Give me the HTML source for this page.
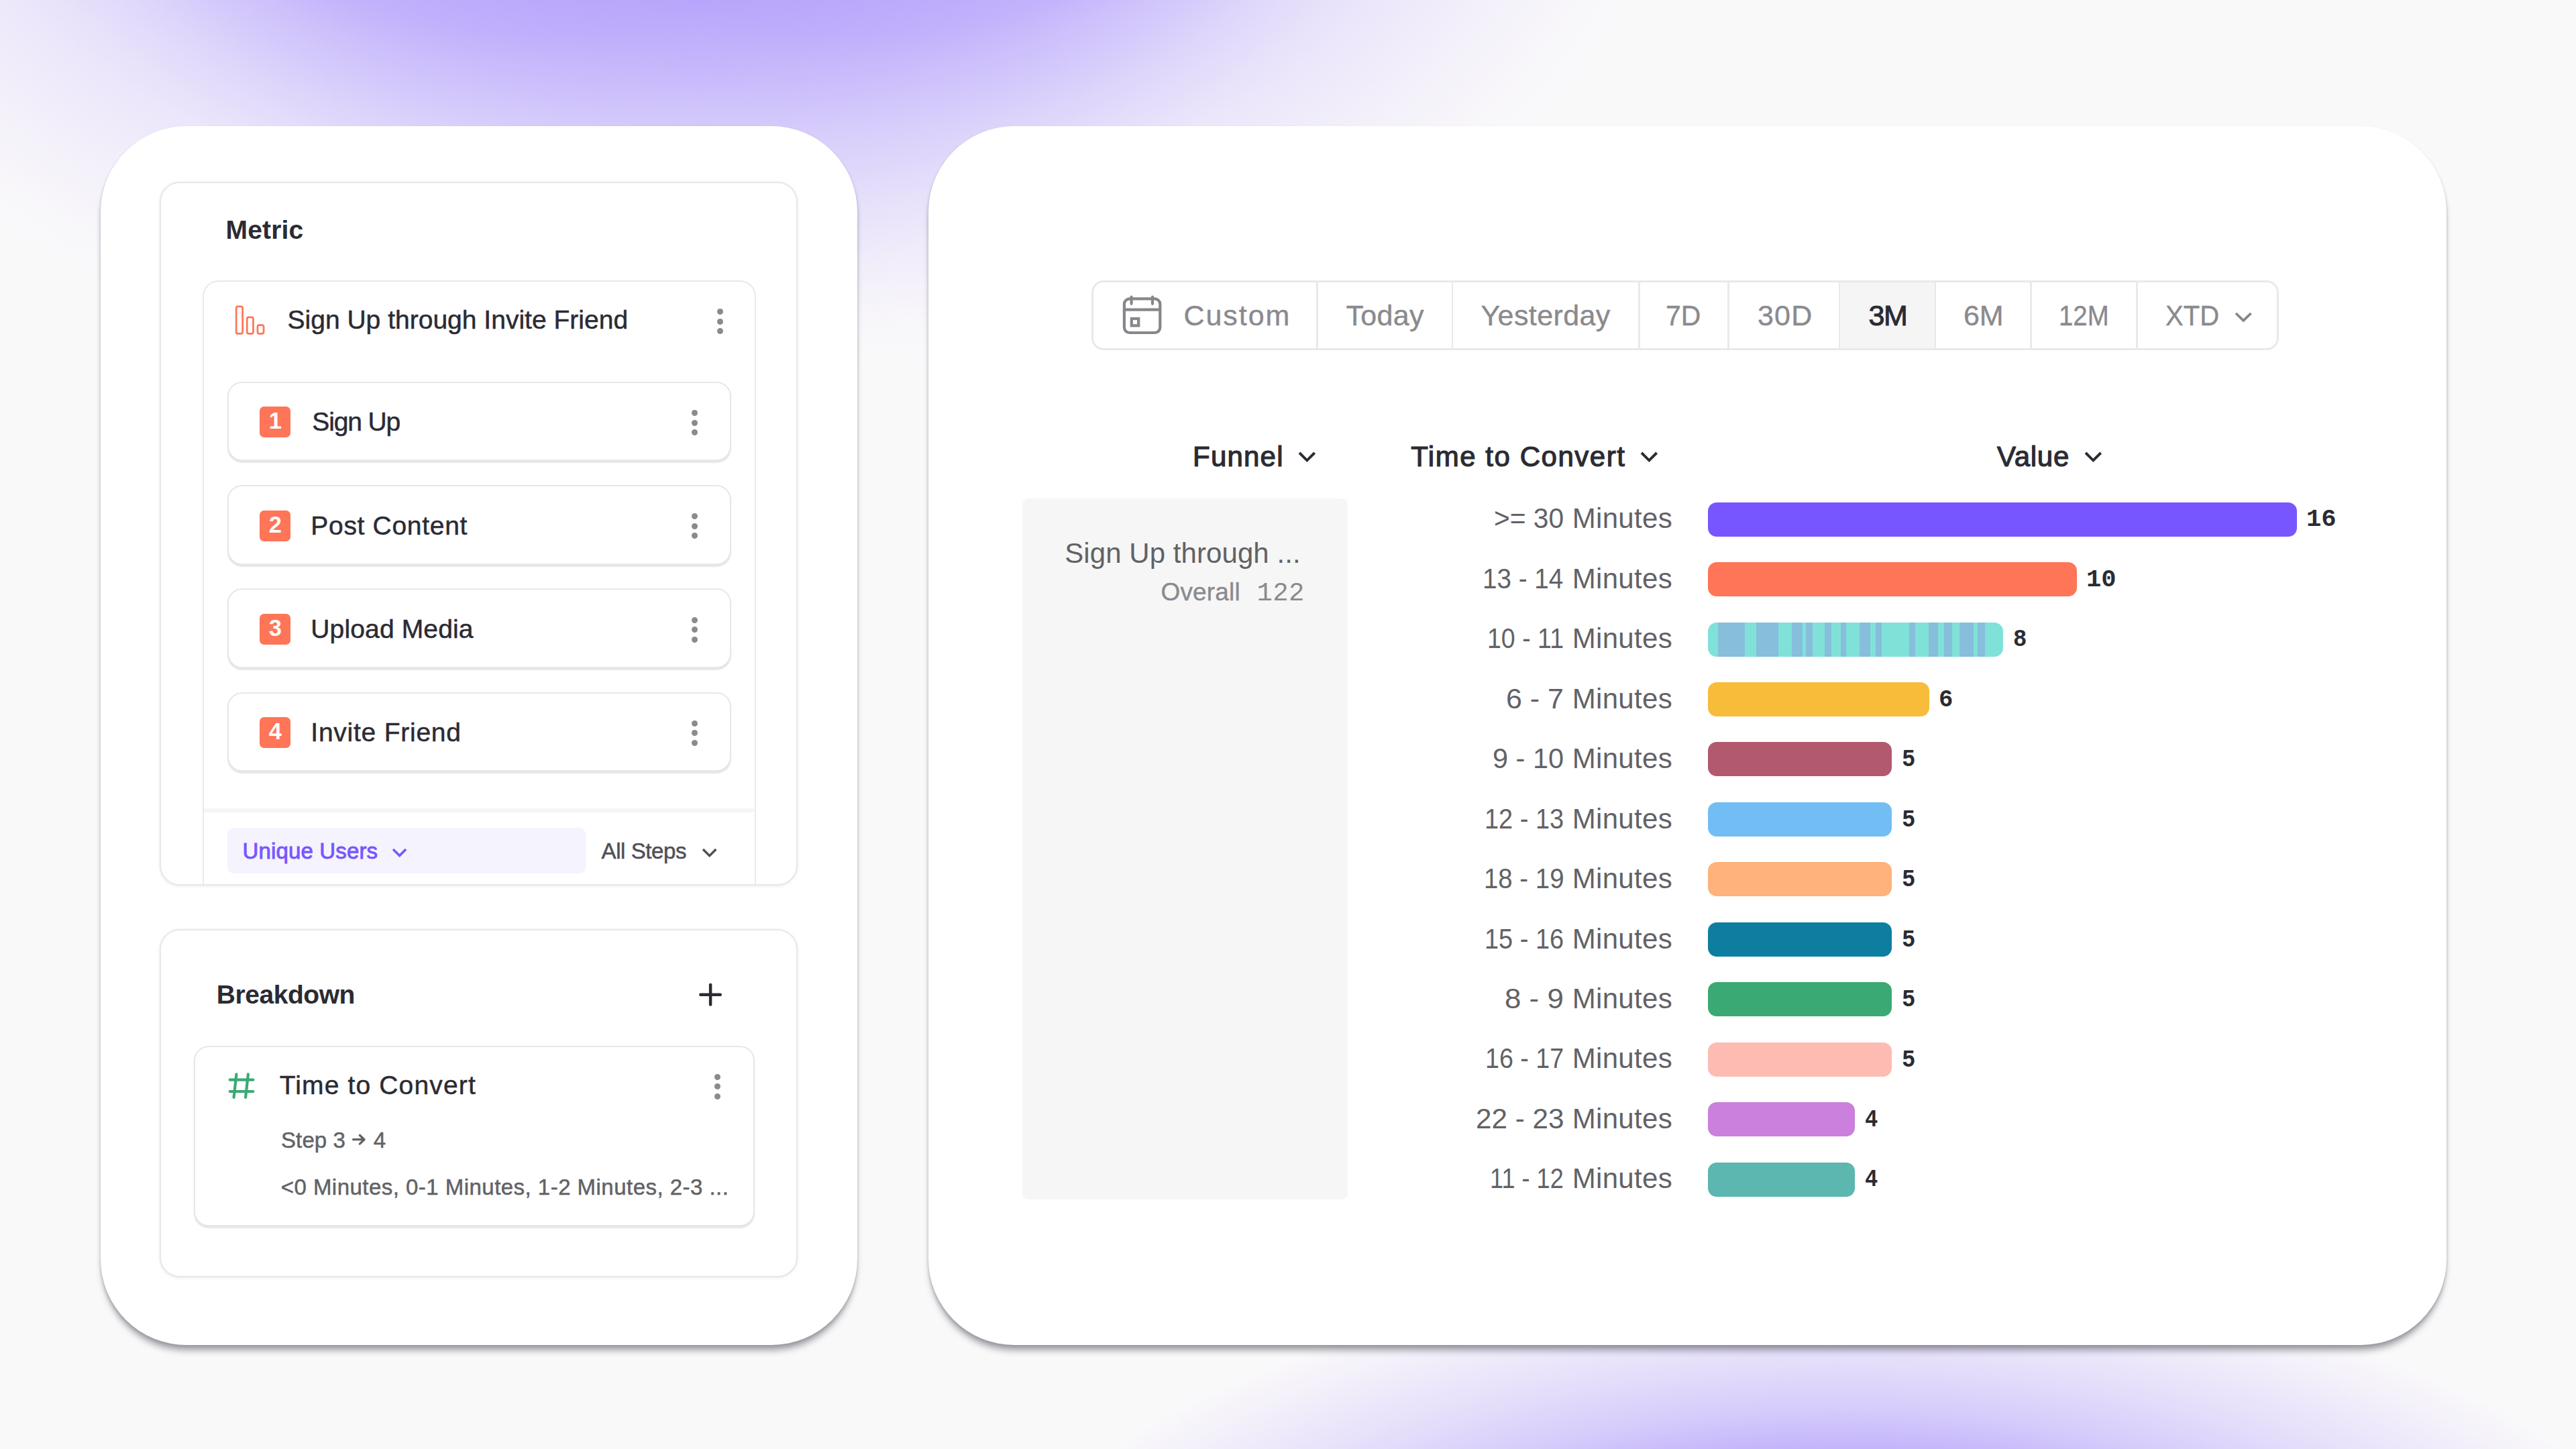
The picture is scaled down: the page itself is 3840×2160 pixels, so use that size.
<!DOCTYPE html>
<html lang="en"><head><meta charset="utf-8"><title>Funnel - Time to Convert</title>
<style>
html,body{margin:0;padding:0}
body{width:3840px;height:2160px;overflow:hidden;position:relative;font-family:"Liberation Sans",sans-serif;
background:radial-gradient(ellipse 1250px 900px at 780px -350px, rgba(179,159,252,0.800) 0.0%, rgba(179,159,252,0.800) 38.9%, rgba(179,159,252,0.720) 44.4%, rgba(179,159,252,0.576) 49.7%, rgba(179,159,252,0.360) 60.3%, rgba(179,159,252,0.208) 71.1%, rgba(179,159,252,0.108) 81.8%, rgba(179,159,252,0.028) 92.6%, rgba(179,159,252,0.000) 100.0%),
 radial-gradient(ellipse 1250px 900px at 1300px -350px, rgba(179,159,252,0.800) 0.0%, rgba(179,159,252,0.800) 38.9%, rgba(179,159,252,0.720) 44.4%, rgba(179,159,252,0.576) 49.7%, rgba(179,159,252,0.360) 60.3%, rgba(179,159,252,0.208) 71.1%, rgba(179,159,252,0.108) 81.8%, rgba(179,159,252,0.028) 92.6%, rgba(179,159,252,0.000) 100.0%),
 radial-gradient(ellipse 1250px 500px at 2740px 2400px, rgba(181,162,252,1.000) 0.0%, rgba(181,162,252,1.000) 31.0%, rgba(181,162,252,0.900) 40.7%, rgba(181,162,252,0.800) 48.0%, rgba(181,162,252,0.520) 60.0%, rgba(181,162,252,0.330) 72.7%, rgba(181,162,252,0.220) 81.4%, rgba(181,162,252,0.110) 90.0%, rgba(181,162,252,0.000) 100.0%),
 #faf9fa;}
.a,.t,.panel,.card,.fcard,.row,.badge,.dot,.bar{position:absolute;box-sizing:border-box}
.t{white-space:pre;line-height:1;transform-origin:0 50%;}
.panel{background:#fff;border-radius:128px;box-shadow:0 11px 10px -2px rgba(72,72,84,.42),0 4px 4px rgba(72,72,84,.10),0 2px 4px rgba(72,72,84,.14)}
.card{background:#fff;border:2px solid #e8e8ea;border-radius:30px;box-shadow:0 1px 4px rgba(40,40,60,.10)}
.fcard{background:#fff;border:2.5px solid #e9e9ec;border-radius:24px}
.row{background:#fff;border:2.5px solid #e7e7ea;border-radius:22px;box-shadow:0 2.5px 1.5px rgba(30,30,45,.11)}
.badge{width:46px;height:46px;border-radius:6.5px;background:#ff7557;color:#fff;font-weight:700;font-size:34.5px;line-height:43.8px;text-align:center;text-indent:0.6px}
.dot{width:9px;height:9px;border-radius:50%}
.bar{height:51px;border-radius:13px;overflow:hidden}
</style></head>
<body>
<div class="panel" style="left:150px;top:188px;width:1128px;height:1817px"></div>
<div class="panel" style="left:1384px;top:188px;width:2262.5px;height:1817px"></div>
<div class="card" style="left:238px;top:270.5px;width:951px;height:1049px;overflow:hidden"><div class="fcard" style="left:61.5px;top:145.5px;width:825px;height:960px"></div><div class="a" style="left:64px;top:932.5px;width:820px;height:5.5px;background:#f5f5f7"></div><div class="a" style="left:98.5px;top:961.5px;width:534px;height:68px;border-radius:9px;background:#f5f3fd"></div></div>
<svg class="a" style="left:348px;top:452px" width="52" height="52" viewBox="348 452 52 52" fill="none" stroke="#ff7557" stroke-width="2.7"><rect x="352.15" y="456.95" width="9.5" height="40.4" rx="2.6"/><rect x="368.25" y="472.85" width="9.2" height="24.5" rx="2.6"/><rect x="383.95" y="484.55" width="9.1" height="12.8" rx="2.6"/></svg>
<div class="dot" style="left:1068.5px;top:460.0px;background:#8b8b8f"></div><div class="dot" style="left:1068.5px;top:474.5px;background:#8b8b8f"></div><div class="dot" style="left:1068.5px;top:489.0px;background:#8b8b8f"></div>
<div class="row" style="left:339.3px;top:568.8px;width:751px;height:118.6px"></div>
<div class="badge" style="left:387px;top:606.4px">1</div>
<div class="dot" style="left:1031.3px;top:611.0px;background:#8b8b8f"></div><div class="dot" style="left:1031.3px;top:625.5px;background:#8b8b8f"></div><div class="dot" style="left:1031.3px;top:640.0px;background:#8b8b8f"></div>
<div class="row" style="left:339.3px;top:723.1px;width:751px;height:118.6px"></div>
<div class="badge" style="left:387px;top:760.7px">2</div>
<div class="dot" style="left:1031.3px;top:765.3px;background:#8b8b8f"></div><div class="dot" style="left:1031.3px;top:779.8px;background:#8b8b8f"></div><div class="dot" style="left:1031.3px;top:794.3px;background:#8b8b8f"></div>
<div class="row" style="left:339.3px;top:877.4px;width:751px;height:118.6px"></div>
<div class="badge" style="left:387px;top:915.0px">3</div>
<div class="dot" style="left:1031.3px;top:919.6px;background:#8b8b8f"></div><div class="dot" style="left:1031.3px;top:934.1px;background:#8b8b8f"></div><div class="dot" style="left:1031.3px;top:948.6px;background:#8b8b8f"></div>
<div class="row" style="left:339.3px;top:1031.7px;width:751px;height:118.6px"></div>
<div class="badge" style="left:387px;top:1069.3px">4</div>
<div class="dot" style="left:1031.3px;top:1073.9px;background:#8b8b8f"></div><div class="dot" style="left:1031.3px;top:1088.4px;background:#8b8b8f"></div><div class="dot" style="left:1031.3px;top:1102.9px;background:#8b8b8f"></div>
<svg class="a" style="left:581.00px;top:1260.80px" width="29.10" height="19.55" viewBox="-5 -5 29.10 19.55"><path d="M0 0 L9.55 9.55 L19.10 0" fill="none" stroke="#7856ff" stroke-width="3.5" stroke-linecap="butt" stroke-linejoin="miter"/></svg>
<svg class="a" style="left:1042.60px;top:1261.20px" width="29.40" height="19.70" viewBox="-5 -5 29.40 19.70"><path d="M0 0 L9.70 9.70 L19.40 0" fill="none" stroke="#4f4f56" stroke-width="3.4" stroke-linecap="butt" stroke-linejoin="miter"/></svg>
<div class="card" style="left:238px;top:1384.5px;width:951px;height:519px"></div>
<svg class="a" style="left:1039px;top:1463px" width="40" height="40" viewBox="1039 1463 40 40"><path d="M1059.1 1467.9V1497.6M1044.3 1482.8H1073.8" stroke="#2b2b33" stroke-width="4.5" stroke-linecap="round"/></svg>
<div class="row" style="left:288.5px;top:1559.3px;width:836px;height:268.5px"></div>
<svg class="a" style="left:336px;top:1594px" width="50" height="50" viewBox="336 1594 50 50"><path d="M352.4 1601.4L348.6 1635.8M369.9 1601.4L366.1 1635.8M342.7 1609.7H377.3M342.7 1627H377.3" stroke="#3baa75" stroke-width="4.2" stroke-linecap="round" fill="none"/></svg>
<div class="dot" style="left:1064.9px;top:1600.9px;background:#8b8b8f"></div><div class="dot" style="left:1064.9px;top:1615.4px;background:#8b8b8f"></div><div class="dot" style="left:1064.9px;top:1629.9px;background:#8b8b8f"></div>
<svg class="a" style="left:520px;top:1686px" width="30" height="26" viewBox="520 1686 30 26"><path d="M526.6 1698.7H542.6M536.3 1692.3L543 1698.7L536.3 1705.1" stroke="#626266" stroke-width="3.3" stroke-linecap="round" stroke-linejoin="round" fill="none"/></svg>
<div class="a" style="left:1627px;top:417.5px;width:1770px;height:104px;border:3px solid #e9e9ec;border-radius:18px;box-sizing:border-box;overflow:hidden;background:#fff"><div class="a" style="left:1111.7px;top:0;width:143.3px;height:100px;background:#f5f5f5"></div><div class="a" style="left:331.9px;top:0;width:2.8px;height:100px;background:#e9e9ec"></div><div class="a" style="left:533.6px;top:0;width:2.8px;height:100px;background:#e9e9ec"></div><div class="a" style="left:812.1px;top:0;width:2.8px;height:100px;background:#e9e9ec"></div><div class="a" style="left:945.1px;top:0;width:2.8px;height:100px;background:#e9e9ec"></div><div class="a" style="left:1110.6px;top:0;width:2.8px;height:100px;background:#e9e9ec"></div><div class="a" style="left:1253.6px;top:0;width:2.8px;height:100px;background:#e9e9ec"></div><div class="a" style="left:1396.1px;top:0;width:2.8px;height:100px;background:#e9e9ec"></div><div class="a" style="left:1554.1px;top:0;width:2.8px;height:100px;background:#e9e9ec"></div></div>
<svg class="a" style="left:1668px;top:436px" width="70" height="70" viewBox="1668 436 70 70" fill="none" stroke="#87878b" stroke-width="4.2" stroke-linecap="round"><rect x="1675.9" y="445.4" width="53.4" height="50.6" rx="8"/><path d="M1686.6 442.6V452.8M1718 442.6V452.8M1676 461.6H1729.3"/><rect x="1686.8" y="475" width="10.4" height="10.4" stroke-linejoin="miter" stroke-linecap="butt"/></svg>
<svg class="a" style="left:3328.15px;top:461.60px" width="32.50" height="20.80" viewBox="-5 -5 32.50 20.80"><path d="M0 0 L11.25 10.80 L22.50 0" fill="none" stroke="#87878b" stroke-width="3.8" stroke-linecap="butt" stroke-linejoin="miter"/></svg>
<svg class="a" style="left:1931.65px;top:669.85px" width="32.70" height="21.35" viewBox="-5 -5 32.70 21.35"><path d="M0 0 L11.35 11.35 L22.70 0" fill="none" stroke="#2b2b33" stroke-width="3.9" stroke-linecap="butt" stroke-linejoin="miter"/></svg>
<svg class="a" style="left:2442.35px;top:669.85px" width="32.70" height="21.35" viewBox="-5 -5 32.70 21.35"><path d="M0 0 L11.35 11.35 L22.70 0" fill="none" stroke="#2b2b33" stroke-width="3.9" stroke-linecap="butt" stroke-linejoin="miter"/></svg>
<svg class="a" style="left:3104.15px;top:669.85px" width="32.70" height="21.35" viewBox="-5 -5 32.70 21.35"><path d="M0 0 L11.35 11.35 L22.70 0" fill="none" stroke="#2b2b33" stroke-width="3.9" stroke-linecap="butt" stroke-linejoin="miter"/></svg>
<div class="a" style="left:1523.5px;top:742.5px;width:485px;height:1045px;background:#f6f6f6;border-radius:9px"></div>
<div class="bar" style="left:2545.5px;top:748.6px;width:878.5px;background:#7856ff"></div>
<div class="bar" style="left:2545.5px;top:838.1px;width:550.6px;background:#ff7557"></div>
<div class="bar" style="left:2545.5px;top:927.5px;width:440.5px;background:#80e1d9"><div class="a" style="left:15.9px;top:0;width:39.4px;height:51px;background:#86bedc"></div><div class="a" style="left:72.4px;top:0;width:33.3px;height:51px;background:#86bedc"></div><div class="a" style="left:125.9px;top:0;width:16.1px;height:51px;background:#86bedc"></div><div class="a" style="left:146.1px;top:0;width:10.1px;height:51px;background:#86bedc"></div><div class="a" style="left:174.3px;top:0;width:10.1px;height:51px;background:#86bedc"></div><div class="a" style="left:198.6px;top:0;width:8.1px;height:51px;background:#86bedc"></div><div class="a" style="left:226.8px;top:0;width:16.1px;height:51px;background:#86bedc"></div><div class="a" style="left:250.0px;top:0;width:9.1px;height:51px;background:#86bedc"></div><div class="a" style="left:300.5px;top:0;width:9.1px;height:51px;background:#86bedc"></div><div class="a" style="left:329.8px;top:0;width:14.1px;height:51px;background:#86bedc"></div><div class="a" style="left:352.0px;top:0;width:12.1px;height:51px;background:#86bedc"></div><div class="a" style="left:375.2px;top:0;width:21.2px;height:51px;background:#86bedc"></div><div class="a" style="left:402.4px;top:0;width:11.1px;height:51px;background:#86bedc"></div></div>
<div class="bar" style="left:2545.5px;top:1017.0px;width:330.3px;background:#f8bc3b"></div>
<div class="bar" style="left:2545.5px;top:1106.4px;width:274.5px;background:#b2596e"></div>
<div class="bar" style="left:2545.5px;top:1195.8px;width:274.5px;background:#72bef4"></div>
<div class="bar" style="left:2545.5px;top:1285.3px;width:274.5px;background:#ffb27a"></div>
<div class="bar" style="left:2545.5px;top:1374.8px;width:274.5px;background:#0d7ea0"></div>
<div class="bar" style="left:2545.5px;top:1464.2px;width:274.5px;background:#3ba974"></div>
<div class="bar" style="left:2545.5px;top:1553.7px;width:274.5px;background:#febbb2"></div>
<div class="bar" style="left:2545.5px;top:1643.1px;width:219.5px;background:#ca80dc"></div>
<div class="bar" style="left:2545.5px;top:1732.6px;width:219.5px;background:#5bb7af"></div>
<div class="t" style="left:336.5px;top:323.0px;font-size:39px;color:#2b2b33;letter-spacing:0.16px;font-weight:700;">Metric</div>
<div class="t" style="left:428.5px;top:457.3px;font-size:39px;color:#2b2b33;letter-spacing:0.01px;-webkit-text-stroke:0.5px #2b2b33;">Sign Up through Invite Friend</div>
<div class="t" style="left:465.3px;top:609.3px;font-size:39px;color:#2b2b33;letter-spacing:-1.16px;-webkit-text-stroke:0.5px #2b2b33;">Sign Up</div>
<div class="t" style="left:463.3px;top:763.6px;font-size:39px;color:#2b2b33;letter-spacing:0.69px;-webkit-text-stroke:0.5px #2b2b33;">Post Content</div>
<div class="t" style="left:463.3px;top:917.9px;font-size:39px;color:#2b2b33;letter-spacing:0.14px;-webkit-text-stroke:0.5px #2b2b33;">Upload Media</div>
<div class="t" style="left:463.3px;top:1072.2px;font-size:39px;color:#2b2b33;letter-spacing:0.76px;-webkit-text-stroke:0.5px #2b2b33;">Invite Friend</div>
<div class="t" style="left:361.5px;top:1251.8px;font-size:33px;color:#7856ff;letter-spacing:0.15px;-webkit-text-stroke:0.9px #7856ff;">Unique Users</div>
<div class="t" style="left:896.6px;top:1251.8px;font-size:33px;color:#4f4f56;letter-spacing:-0.42px;-webkit-text-stroke:0.5px #4f4f56;">All Steps</div>
<div class="t" style="left:322.7px;top:1463.0px;font-size:39px;color:#2b2b33;letter-spacing:-0.44px;font-weight:700;">Breakdown</div>
<div class="t" style="left:416.7px;top:1598.2px;font-size:39px;color:#2b2b33;letter-spacing:1.15px;-webkit-text-stroke:0.5px #2b2b33;">Time to Convert</div>
<div class="t" style="left:419.0px;top:1682.9px;font-size:33px;color:#626266;letter-spacing:0.11px;-webkit-text-stroke:0.5px #626266;">Step 3</div>
<div class="t" style="left:556.7px;top:1682.9px;font-size:33px;color:#626266;-webkit-text-stroke:0.5px #626266;">4</div>
<div class="t" style="left:418.7px;top:1752.9px;font-size:33px;color:#626266;letter-spacing:0.47px;-webkit-text-stroke:0.5px #626266;">&lt;0 Minutes, 0-1 Minutes, 1-2 Minutes, 2-3 ...</div>
<div class="t" style="left:1764.5px;top:449.4px;font-size:43px;color:#8a8a8e;letter-spacing:1.93px;-webkit-text-stroke:0.4px #8a8a8e;">Custom</div>
<div class="t" style="left:2006.5px;top:449.4px;font-size:43px;color:#8a8a8e;letter-spacing:0.31px;-webkit-text-stroke:0.4px #8a8a8e;">Today</div>
<div class="t" style="left:2207.5px;top:449.4px;font-size:43px;color:#8a8a8e;letter-spacing:0.39px;-webkit-text-stroke:0.4px #8a8a8e;">Yesterday</div>
<div class="t" style="left:2483.3px;top:449.4px;font-size:43px;color:#8a8a8e;transform:scaleX(0.9526);-webkit-text-stroke:0.4px #8a8a8e;">7D</div>
<div class="t" style="left:2619.9px;top:449.4px;font-size:43px;color:#8a8a8e;letter-spacing:1.24px;-webkit-text-stroke:0.4px #8a8a8e;">30D</div>
<div class="t" style="left:2785.4px;top:449.4px;font-size:43px;color:#2b2b33;letter-spacing:-1.31px;-webkit-text-stroke:1.0px #2b2b33;">3M</div>
<div class="t" style="left:2927.0px;top:449.4px;font-size:43px;color:#8a8a8e;letter-spacing:-0.21px;-webkit-text-stroke:0.4px #8a8a8e;">6M</div>
<div class="t" style="left:3068.8px;top:449.4px;font-size:43px;color:#8a8a8e;transform:scaleX(0.8930);-webkit-text-stroke:0.4px #8a8a8e;">12M</div>
<div class="t" style="left:3228.3px;top:449.4px;font-size:43px;color:#8a8a8e;transform:scaleX(0.9315);-webkit-text-stroke:0.4px #8a8a8e;">XTD</div>
<div class="t" style="left:1778.0px;top:660.4px;font-size:42px;color:#2b2b33;letter-spacing:1.22px;-webkit-text-stroke:1.2px #2b2b33;">Funnel</div>
<div class="t" style="left:2103.2px;top:660.4px;font-size:42px;color:#2b2b33;letter-spacing:1.54px;-webkit-text-stroke:1.2px #2b2b33;">Time to Convert</div>
<div class="t" style="left:2977.0px;top:660.4px;font-size:42px;color:#2b2b33;letter-spacing:0.76px;-webkit-text-stroke:1.2px #2b2b33;">Value</div>
<div class="t" style="left:1587.3px;top:803.6px;font-size:42px;color:#626266;letter-spacing:0.06px;">Sign Up through ...</div>
<div class="t" style="left:1730.5px;top:863.9px;font-size:37px;color:#8a8a8e;letter-spacing:0.15px;-webkit-text-stroke:0.4px #8a8a8e;">Overall</div>
<div class="t" style="left:1873.6px;top:865.5px;font-size:39px;color:#8a8a8e;letter-spacing:0.25px;font-family:'Liberation Mono',monospace;">122</div>
<div class="t" style="left:2227.0px;top:752.3px;font-size:42px;color:#626266;transform:scaleX(0.9694);">&gt;= 30</div>
<div class="t" style="left:2343.7px;top:752.3px;font-size:42px;color:#626266;letter-spacing:0.32px;">Minutes</div>
<div class="t" style="left:3438.0px;top:756.4px;font-size:37px;color:#2b2b33;transform:scaleX(1.0072);font-weight:700;font-family:'Liberation Mono',monospace;">16</div>
<div class="t" style="left:2209.8px;top:841.8px;font-size:42px;color:#626266;transform:scaleX(0.9199);">13 - 14</div>
<div class="t" style="left:2343.7px;top:841.8px;font-size:42px;color:#626266;letter-spacing:0.32px;">Minutes</div>
<div class="t" style="left:3110.1px;top:845.9px;font-size:37px;color:#2b2b33;transform:scaleX(1.0072);font-weight:700;font-family:'Liberation Mono',monospace;">10</div>
<div class="t" style="left:2217.0px;top:931.2px;font-size:42px;color:#626266;transform:scaleX(0.8931);">10 - 11</div>
<div class="t" style="left:2343.7px;top:931.2px;font-size:42px;color:#626266;letter-spacing:0.32px;">Minutes</div>
<div class="t" style="left:3001.1px;top:935.3px;font-size:37px;color:#2b2b33;transform:scaleX(0.9150);font-weight:700;font-family:'Liberation Mono',monospace;">8</div>
<div class="t" style="left:2245.3px;top:1020.7px;font-size:42px;color:#626266;transform:scaleX(1.0225);">6 - 7</div>
<div class="t" style="left:2343.7px;top:1020.7px;font-size:42px;color:#626266;letter-spacing:0.32px;">Minutes</div>
<div class="t" style="left:2889.9px;top:1024.8px;font-size:37px;color:#2b2b33;transform:scaleX(0.9632);font-weight:700;font-family:'Liberation Mono',monospace;">6</div>
<div class="t" style="left:2225.0px;top:1110.1px;font-size:42px;color:#626266;transform:scaleX(0.9882);">9 - 10</div>
<div class="t" style="left:2343.7px;top:1110.1px;font-size:42px;color:#626266;letter-spacing:0.32px;">Minutes</div>
<div class="t" style="left:2835.1px;top:1114.2px;font-size:37px;color:#2b2b33;transform:scaleX(0.9150);font-weight:700;font-family:'Liberation Mono',monospace;">5</div>
<div class="t" style="left:2212.9px;top:1199.6px;font-size:42px;color:#626266;transform:scaleX(0.9035);">12 - 13</div>
<div class="t" style="left:2343.7px;top:1199.6px;font-size:42px;color:#626266;letter-spacing:0.32px;">Minutes</div>
<div class="t" style="left:2835.1px;top:1203.7px;font-size:37px;color:#2b2b33;transform:scaleX(0.9150);font-weight:700;font-family:'Liberation Mono',monospace;">5</div>
<div class="t" style="left:2211.6px;top:1289.0px;font-size:42px;color:#626266;transform:scaleX(0.9138);">18 - 19</div>
<div class="t" style="left:2343.7px;top:1289.0px;font-size:42px;color:#626266;letter-spacing:0.32px;">Minutes</div>
<div class="t" style="left:2835.1px;top:1293.1px;font-size:37px;color:#2b2b33;transform:scaleX(0.9150);font-weight:700;font-family:'Liberation Mono',monospace;">5</div>
<div class="t" style="left:2212.9px;top:1378.5px;font-size:42px;color:#626266;transform:scaleX(0.9035);">15 - 16</div>
<div class="t" style="left:2343.7px;top:1378.5px;font-size:42px;color:#626266;letter-spacing:0.32px;">Minutes</div>
<div class="t" style="left:2835.1px;top:1382.6px;font-size:37px;color:#2b2b33;transform:scaleX(0.9150);font-weight:700;font-family:'Liberation Mono',monospace;">5</div>
<div class="t" style="left:2243.4px;top:1467.9px;font-size:42px;color:#626266;transform:scaleX(1.0455);">8 - 9</div>
<div class="t" style="left:2343.7px;top:1467.9px;font-size:42px;color:#626266;letter-spacing:0.32px;">Minutes</div>
<div class="t" style="left:2835.1px;top:1472.0px;font-size:37px;color:#2b2b33;transform:scaleX(0.9150);font-weight:700;font-family:'Liberation Mono',monospace;">5</div>
<div class="t" style="left:2213.8px;top:1557.4px;font-size:42px;color:#626266;transform:scaleX(0.8964);">16 - 17</div>
<div class="t" style="left:2343.7px;top:1557.4px;font-size:42px;color:#626266;letter-spacing:0.32px;">Minutes</div>
<div class="t" style="left:2835.1px;top:1561.5px;font-size:37px;color:#2b2b33;transform:scaleX(0.9150);font-weight:700;font-family:'Liberation Mono',monospace;">5</div>
<div class="t" style="left:2199.6px;top:1646.8px;font-size:42px;color:#626266;transform:scaleX(1.0063);">22 - 23</div>
<div class="t" style="left:2343.7px;top:1646.8px;font-size:42px;color:#626266;letter-spacing:0.32px;">Minutes</div>
<div class="t" style="left:2780.1px;top:1650.9px;font-size:37px;color:#2b2b33;transform:scaleX(0.8714);font-weight:700;font-family:'Liberation Mono',monospace;">4</div>
<div class="t" style="left:2221.2px;top:1736.3px;font-size:42px;color:#626266;transform:scaleX(0.8598);">11 - 12</div>
<div class="t" style="left:2343.7px;top:1736.3px;font-size:42px;color:#626266;letter-spacing:0.32px;">Minutes</div>
<div class="t" style="left:2780.1px;top:1740.4px;font-size:37px;color:#2b2b33;transform:scaleX(0.8714);font-weight:700;font-family:'Liberation Mono',monospace;">4</div>
</body></html>
